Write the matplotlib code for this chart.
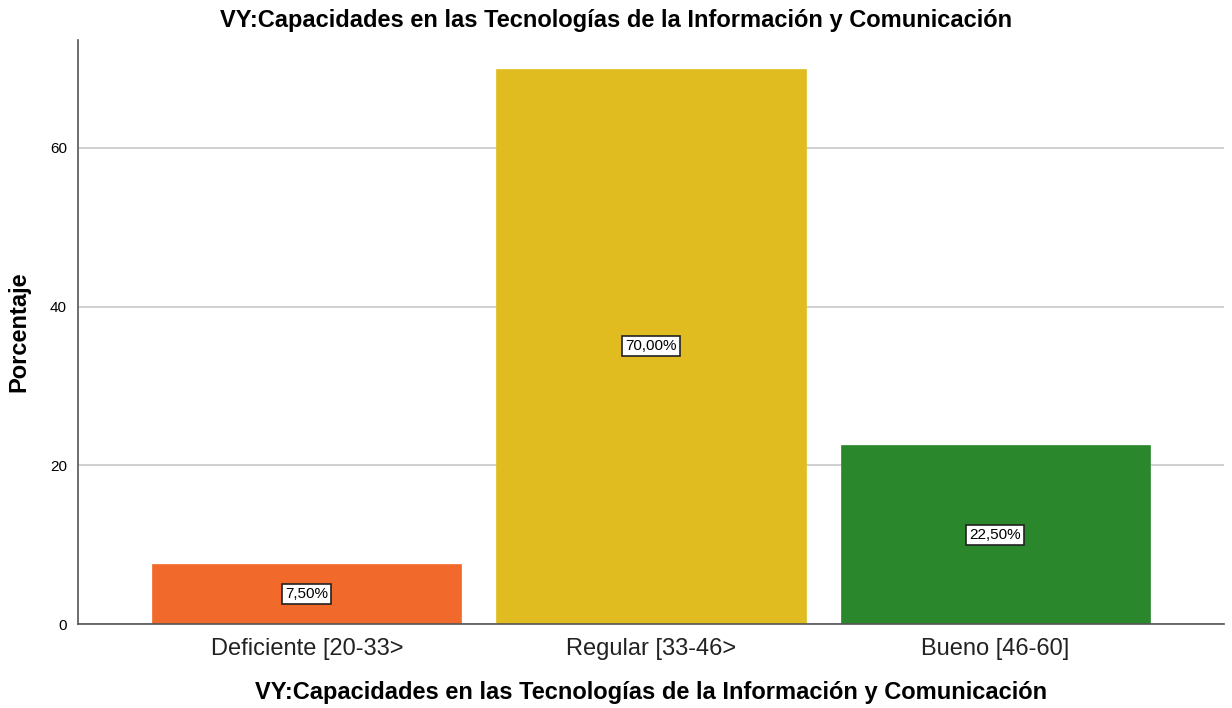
import matplotlib
matplotlib.use("Agg")
import matplotlib.pyplot as plt

categories = ["Deficiente [20-33>", "Regular [33-46>", "Bueno [46-60]"]
values = [7.5, 70.0, 22.5]
labels = ["7,50%", "70,00%", "22,50%"]
colors = ["#F2692C", "#E0BC20", "#2A872C"]
yticks = [0, 20, 40, 60]
title = "VY:Capacidades en las Tecnologías de la Información y Comunicación"

plt.rcParams['font.family'] = ['Liberation Sans', 'DejaVu Sans']

fig = plt.figure(figsize=(12.32, 7.08), dpi=100)
ax = fig.add_axes([78/1232, 84/708, 1146/1232, 584/708])

x = list(range(len(categories)))
ax.set_axisbelow(True)
ax.yaxis.grid(True, color="#c8c8c8", linewidth=1.2)
ax.bar(x, values, width=0.898, color=colors, edgecolor=colors, linewidth=0.5, zorder=2)
for xi, v, lab in zip(x, values, labels):
    ax.text(xi, v/2, lab, ha="center", va="center", fontsize=11, zorder=3,
            bbox=dict(boxstyle="square,pad=0.2", facecolor="white", edgecolor="#222222", linewidth=1.2))

ax.set_xlim(-0.665, 2.665)
ax.set_ylim(0, 73.6)
ax.set_yticks(yticks)
ax.set_xticks(x)
ax.set_xticklabels(categories, fontsize=17, color="#222222")
ax.tick_params(axis='y', length=0, labelsize=11, pad=8)
ax.tick_params(axis='x', length=0, pad=10)
for s in ["top", "right"]:
    ax.spines[s].set_visible(False)
for s in ["left", "bottom"]:
    ax.spines[s].set_color("#555555")
    ax.spines[s].set_linewidth(1.2)

ax.set_ylabel("Porcentaje", fontsize=17, fontweight="bold", labelpad=14)
ax.set_xlabel(title, fontsize=17, fontweight="bold", labelpad=15)
fig.text(0.5, 1 - 20/708, title, ha="center", va="center", fontsize=17, fontweight="bold")

fig.savefig("out.png", dpi=100, facecolor="white")
